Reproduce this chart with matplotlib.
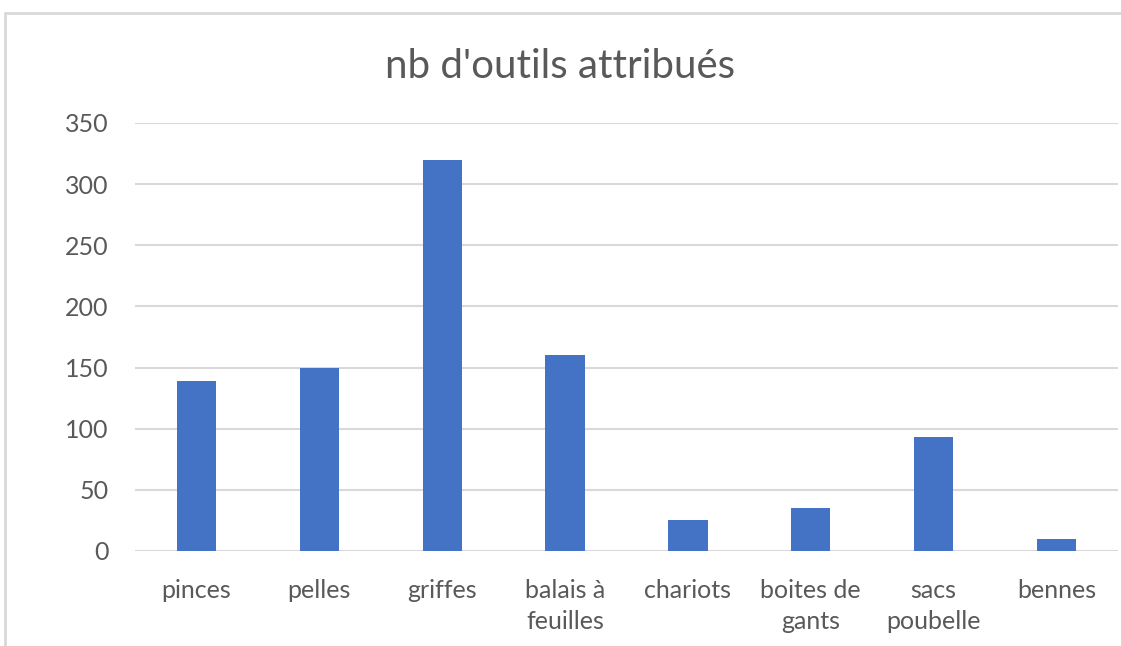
import matplotlib.pyplot as plt
import numpy as np
from matplotlib.patches import Rectangle

plt.rcParams['font.family'] = ['Lato', 'DejaVu Sans']

#data
outils = ["pinces", "pelles", "griffes", "balais à\nfeuilles", "chariots",
          "boites de\ngants", "sacs\npoubelle", "bennes"]
nombre = [139, 150, 320, 160, 25, 35, 93, 10]
y_ticks = [0, 50, 100, 150, 200, 250, 300, 350]

fig = plt.figure(figsize=(11.21, 6.46), dpi=100)
ax = fig.add_axes([135/1121, 95/646, 983/1121, 428/646])

# chart border (top and left only, the picture is cropped)
fig.patches.append(Rectangle((5/1121, -0.1), 1.2, (646-13)/646 + 0.1,
                             transform=fig.transFigure, fill=False,
                             edgecolor='#d9d9d9', linewidth=2))

x = np.arange(len(outils))
ax.bar(x, nombre, width=0.32, color='#4472c4', zorder=3)

ax.set_xlim(-0.5, len(outils) - 0.5)
ax.set_ylim(0, 350)
ax.set_yticks(y_ticks)
ax.set_xticks(x)
ax.set_xticklabels(outils, linespacing=1.45, va='top')
ax.grid(axis='y', color='#d9d9d9', linewidth=1.5, zorder=0)
for s in ax.spines.values():
    s.set_visible(False)
ax.tick_params(length=0, labelsize=18, colors='#595959')
ax.tick_params(axis='x', pad=20)
ax.tick_params(axis='y', pad=19)

fig.text(0.5, 1 - 66/646, "nb d'outils attribués", ha='center', va='center',
         fontsize=29, color='#595959')

fig.savefig("out.png", dpi=100)
